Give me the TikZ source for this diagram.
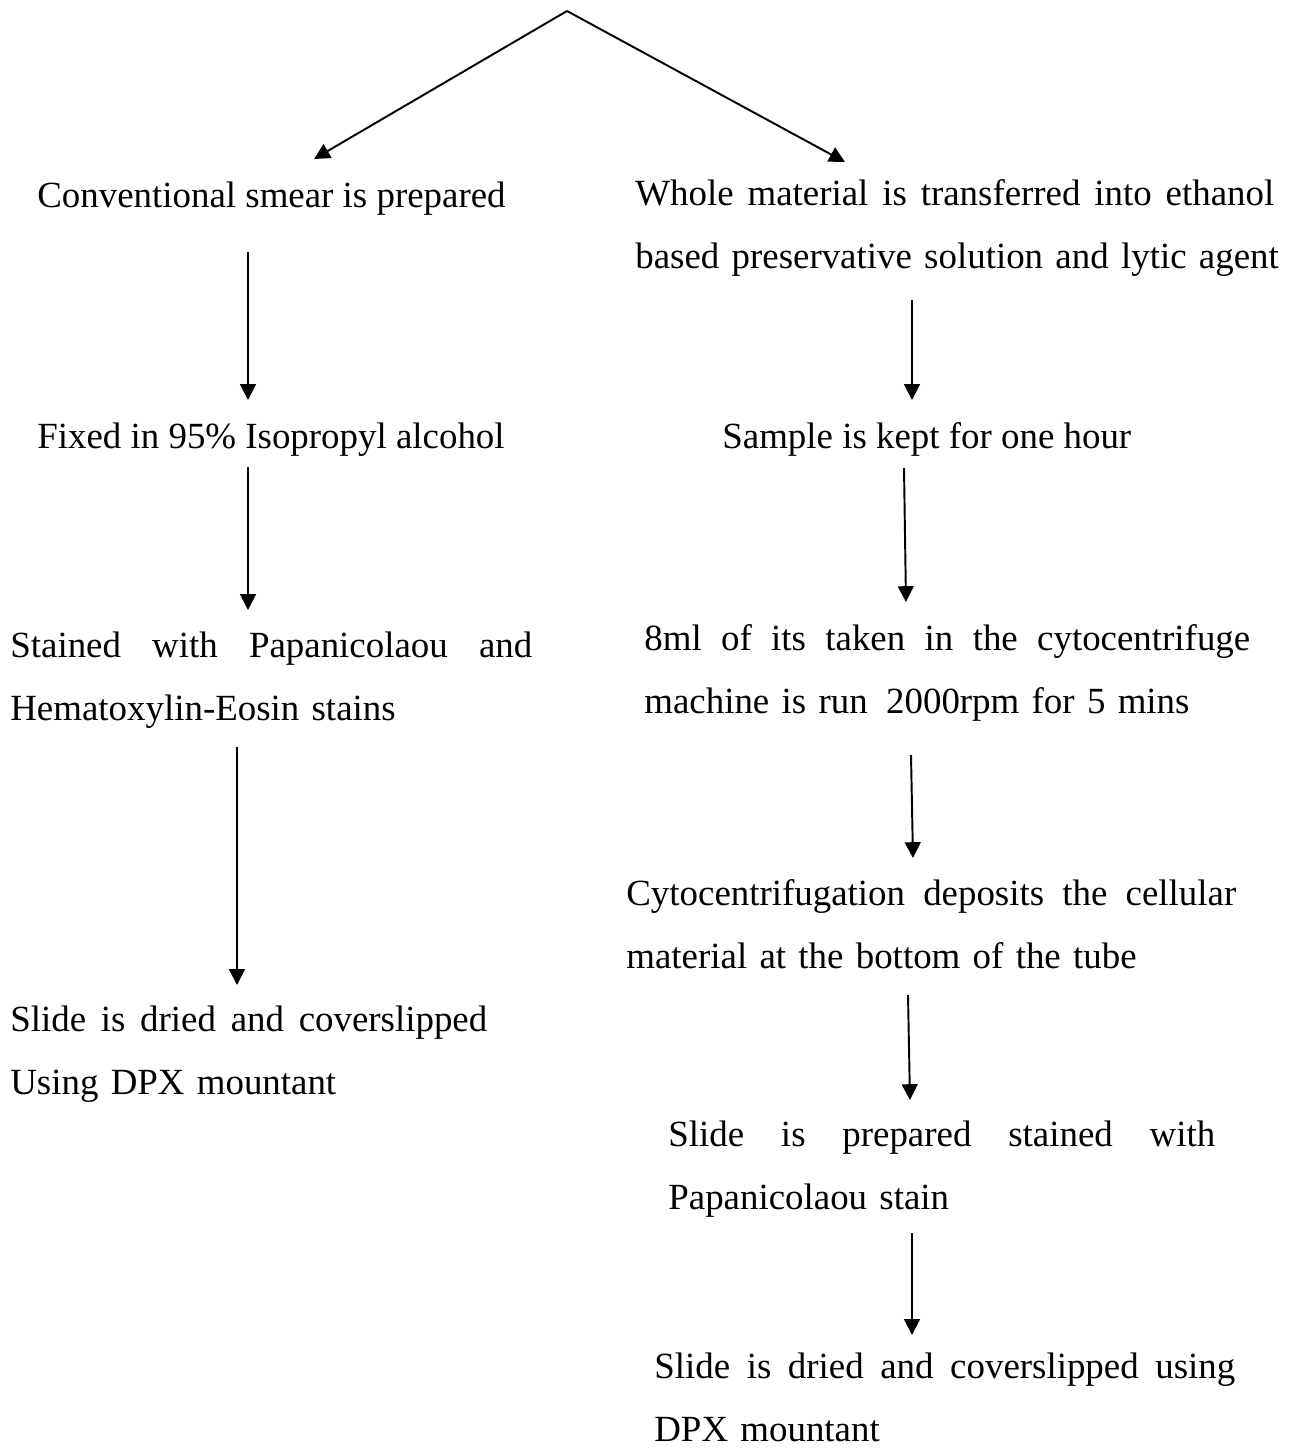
\documentclass[tikz,border=0pt]{standalone}
\usepackage{fontspec}
\setmainfont{Liberation Serif}
\usetikzlibrary{arrows.meta,calc}

\newcommand{\fullline}[2]{\hbox to #1{\spaceskip=0.25em plus 1fil\relax #2}}

\begin{document}
\begin{tikzpicture}[
    x=0.02cm, y=-0.02cm,
    steptext/.style={inner sep=0pt, anchor=base west, align=left, font=\fontsize{21}{36.4}\selectfont},
    link/.style={-{Triangle[length=9pt,width=9pt]}, line width=1.1pt}
]
\useasboundingbox (0,0) rectangle (1290,1448);
\coordinate (root) at (567,11);
% conventional smear
\node[steptext] (conv) at (37,207) {Conventional smear is prepared};
\node[steptext] (fixed) at (37,448) {Fixed in 95\% Isopropyl alcohol};
\node[steptext, text width=11cm] (stained) at (10,657) {\fullline{10.44cm}{Stained with Papanicolaou and}\\Hematoxylin-Eosin stains};
\node[steptext, text width=10cm] (dryleft) at (10,1031) {\fullline{9.54cm}{Slide is dried and coverslipped}\\Using DPX mountant};
% liquid based
\node[steptext, text width=13.2cm] (whole) at (635,205) {\fullline{12.78cm}{Whole material is transferred into ethanol}\\based preservative solution and lytic agent};
\node[steptext] (sample) at (722,448) {Sample is kept for one hour};
\node[steptext, text width=12.6cm] (eight) at (644,650) {\fullline{12.12cm}{8ml of its taken in the cytocentrifuge}\\machine is run~\,2000rpm for 5 mins};
\node[steptext, text width=12.6cm] (cyto) at (626,905) {\fullline{12.2cm}{Cytocentrifugation deposits the cellular}\\material at the bottom of the tube};
\node[steptext, text width=11.4cm] (prep) at (668,1146) {\fullline{10.94cm}{Slide is prepared stained with}\\Papanicolaou stain};
\node[steptext, text width=12cm] (dryright) at (654,1378) {\fullline{11.62cm}{Slide is dried and coverslipped using}\\DPX mountant};

\draw[link] (root) -- ($(conv.base west)+(277,-48)$);
\draw[link] (root) -- ($(whole.base west)+(210,-43)$);

\draw[link] ($(conv.base west)+(211,45)$) -- ($(fixed.base west)+(211,-48)$);
\draw[link] ($(fixed.base west)+(211,19)$) -- ($(stained.base west)+(238,-47)$);
\draw[link] ($(stained.base west)+(227,90)$) -- ($(dryleft.base west)+(227,-46)$);

\draw[link] ($(whole.base west)+(277,95)$) -- ($(sample.base west)+(190,-48)$);
\draw[link] ($(sample.base west)+(182,20)$) -- ($(eight.base west)+(262,-48)$);
\draw[link] ($(eight.base west)+(267,105)$) -- ($(cyto.base west)+(287,-47)$);
\draw[link] ($(cyto.base west)+(282,90)$) -- ($(prep.base west)+(242,-46)$);
\draw[link] ($(prep.base west)+(244,87)$) -- ($(dryright.base west)+(258,-43)$);
\end{tikzpicture}
\end{document}
